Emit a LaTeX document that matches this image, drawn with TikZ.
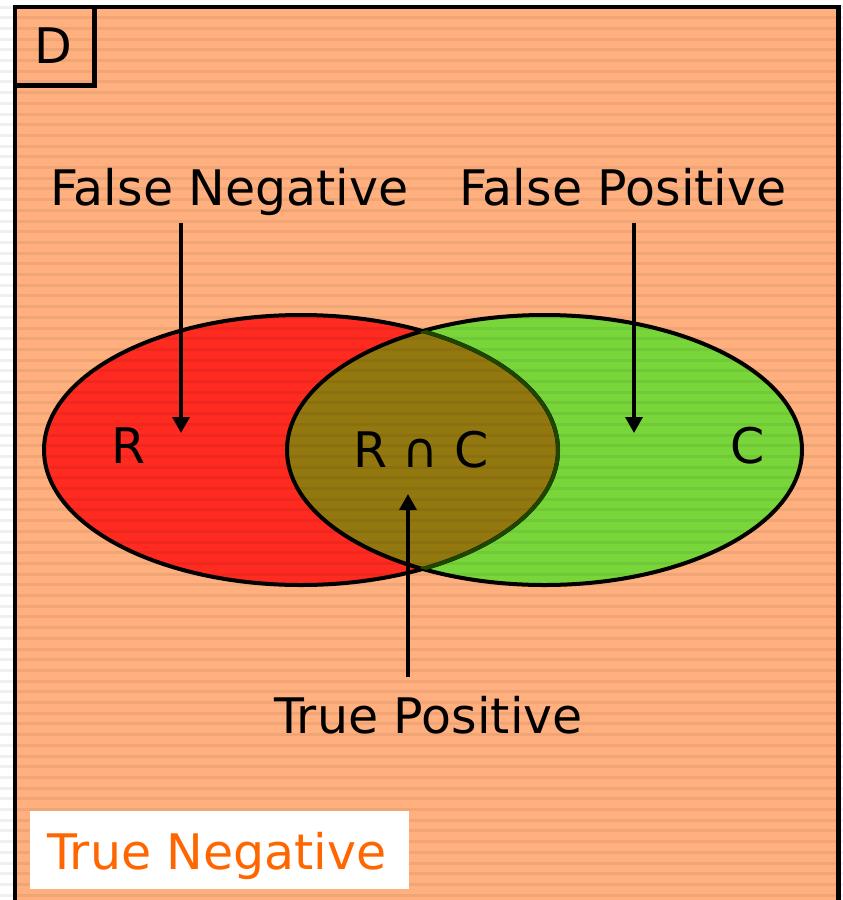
\documentclass[tikz,border=0pt]{standalone}
\usepackage{fontspec}
\setmainfont{DejaVu Sans}
\usepackage{tikz}
\usetikzlibrary{positioning,arrows.meta}

\definecolor{bgorange}{HTML}{FFB07E}
\definecolor{setR}{HTML}{FF2A20}
\definecolor{setC}{HTML}{78D63A}
\definecolor{setRC}{HTML}{937810}
\definecolor{rimRC}{HTML}{1E4600}
\definecolor{tnorange}{HTML}{FF6600}

\begin{document}
\begin{tikzpicture}[y=-1pt,x=1pt,
    lbl/.style={font=\fontsize{49}{58}\selectfont,inner sep=0pt,anchor=base west},
    rim/.style={line width=4pt},
    ptr/.style={line width=3.5pt,-{Triangle[width=17pt,length=16pt]}},
    stripe/.style={black,opacity=0.06,line width=3pt}]
  \useasboundingbox (0,0) rectangle (843,900);
  \fill[white] (0,0) rectangle (843,900);
  % universe D
  \fill[bgorange] (15,7) rectangle (838.7,900);
  % the two sets and their overlap
  \fill[setR] (301,450) ellipse [x radius=257pt,y radius=135pt];
  \fill[setC] (544.5,450) ellipse [x radius=257.5pt,y radius=135pt];
  \begin{scope}
    \clip (301,450) ellipse [x radius=257pt,y radius=135pt];
    \fill[setRC] (544.5,450) ellipse [x radius=257.5pt,y radius=135pt];
  \end{scope}
  % scan lines
  \foreach \k in {0,...,83} \draw[stripe] (0,{7+10.7*\k}) -- (843,{7+10.7*\k});
  \fill[white] (30,811) rectangle (409,889);
  % outlines
  \draw[rim] (301,450) ellipse [x radius=257pt,y radius=135pt];
  \draw[rim] (544.5,450) ellipse [x radius=257.5pt,y radius=135pt];
  \begin{scope}
    \clip (544.5,450) ellipse [x radius=257.5pt,y radius=135pt];
    \draw[rim,rimRC] (301,450) ellipse [x radius=257pt,y radius=135pt];
  \end{scope}
  \draw[line width=4.5pt] (15,900) -- (15,7) -- (838.7,7) -- (838.7,900);
  \draw[line width=4.5pt] (15,7) rectangle (94.5,85.5);
  % labels
  \node[lbl,anchor=center] (dlbl) at (53,46) {D};
  \node[lbl] (fneg) at (50,205) {False Negative};
  \node[lbl] (fpos) at (459,205) {False Positive};
  \node[lbl] (rlbl) at (111,463) {R};
  \node[lbl] (rclbl) at (353,467) {R ∩ C};
  \node[lbl] (clbl) at (730,463) {C};
  \node[lbl] (tpos) at (274,733) {True Positive};
  \node[lbl,text=tnorange] (tneg) at (47,869) {True Negative};
  % pointers
  \coordinate (fnTail) at (181,223);
  \coordinate (fnTip) at (181,433);
  \coordinate (fpTail) at (634,223);
  \coordinate (fpTip) at (634,433);
  \coordinate (tpTail) at (408,677);
  \coordinate (tpTip) at (408,494);
  \draw[ptr] (fnTail) -- (fnTip);
  \draw[ptr] (fpTail) -- (fpTip);
  \draw[ptr] (tpTail) -- (tpTip);
\end{tikzpicture}
\end{document}
